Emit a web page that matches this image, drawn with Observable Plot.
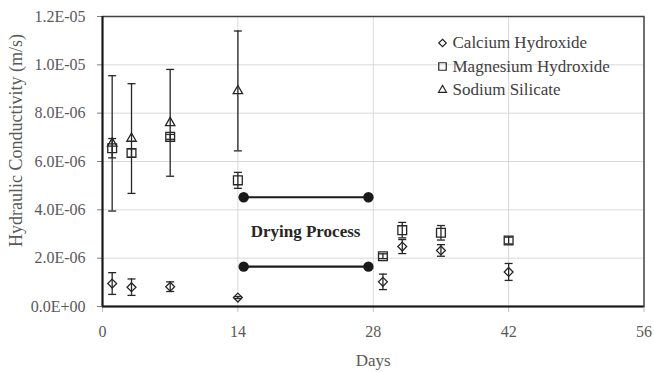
<!DOCTYPE html>
<html>
<head>
<meta charset="utf-8">
<script src="https://cdn.jsdelivr.net/npm/d3@7"></script>
<script src="https://cdn.jsdelivr.net/npm/@observablehq/plot@0.6"></script>
<style>
  html, body { margin: 0; padding: 0; background: #fff; }
  #chart { width: 654px; height: 372px; }
</style>
</head>
<body>
<div id="chart"></div>
<script>
// ---- data ----
const seriesNames = ["Calcium Hydroxide", "Magnesium Hydroxide", "Sodium Silicate"];

const caDays = [1, 3, 7, 14, 29, 31, 35, 42];
const caValues = [0.95e-6, 0.80e-6, 0.82e-6, 0.37e-6, 1.02e-6, 2.48e-6, 2.32e-6, 1.43e-6];
const caErrors = [0.45e-6, 0.34e-6, 0.20e-6, 0.04e-6, 0.32e-6, 0.29e-6, 0.24e-6, 0.35e-6];

const mgDays = [1, 3, 7, 14, 29, 31, 35, 42];
const mgValues = [6.55e-6, 6.35e-6, 7.02e-6, 5.22e-6, 2.08e-6, 3.16e-6, 3.05e-6, 2.73e-6];
const mgErrors = [0.40e-6, 0.17e-6, 0.10e-6, 0.33e-6, 0.10e-6, 0.32e-6, 0.30e-6, 0.14e-6];

const naDays = [1, 3, 7, 14];
const naValues = [6.75e-6, 6.95e-6, 7.60e-6, 8.92e-6];
const naErrors = [2.80e-6, 2.27e-6, 2.21e-6, 2.48e-6];

const dryingDays = [14.6, 27.5];
const dryingLevels = [4.52e-6, 1.65e-6];
const dryingLabel = "Drying Process";
const dryingLabelPos = [21, 3.1e-6];

const xTicks = [0, 14, 28, 42, 56];
const yTicks = [0, 2e-6, 4e-6, 6e-6, 8e-6, 10e-6, 12e-6];
const xTitle = "Days";
const yTitle = "Hydraulic Conductivity (m/s)";

// ---- build tables ----
function rows(days, values, errors, series) {
  return days.map((d, i) => ({series, day: d, value: values[i], lo: values[i] - errors[i], hi: values[i] + errors[i]}));
}
const ca = rows(caDays, caValues, caErrors, seriesNames[0]);
const mg = rows(mgDays, mgValues, mgErrors, seriesNames[1]);
const na = rows(naDays, naValues, naErrors, seriesNames[2]);

const symbolOf = {
  [seriesNames[0]]: {sym: "diamond2", r: 4},
  [seriesNames[1]]: {sym: "square2", r: 5.6},
  [seriesNames[2]]: {sym: "triangle2", r: 4.5}
};

const capSymbol = {draw(ctx) { ctx.moveTo(-4, 0); ctx.lineTo(4, 0); }};

function sciFormat(v) {
  if (v === 0) return "0.0E+00";
  const e = Math.floor(Math.log10(Math.abs(v)) + 1e-9);
  const m = v / Math.pow(10, e);
  const s = e < 0 ? "-" : "+";
  return m.toFixed(1) + "E" + s + String(Math.abs(e)).padStart(2, "0");
}

const ink = "#262626";
const legendRowsDy = [26.5, 50, 73.5];

const legendMarks = seriesNames.flatMap((name, i) => [
  Plot.dot([name], {frameAnchor: "top-left", dx: 340, dy: legendRowsDy[i], symbol: symbolOf[name].sym, r: symbolOf[name].r * 0.85, stroke: ink, strokeWidth: 1.2, fill: "none"}),
  Plot.text([name], {frameAnchor: "top-left", dx: 350, dy: legendRowsDy[i], text: d => d, textAnchor: "start", lineAnchor: "middle", fontSize: 17, fill: "#404040"})
]);

const seriesMarks = [ca, mg, na].flatMap(data => {
  const s = symbolOf[data[0].series];
  return [
    Plot.ruleX(data, {x: "day", y1: "lo", y2: "hi", stroke: ink, strokeWidth: 1.3}),
    Plot.dot(data, {x: "day", y: "hi", symbol: capSymbol, r: 4, stroke: ink, strokeWidth: 1.3}),
    Plot.dot(data, {x: "day", y: "lo", symbol: capSymbol, r: 4, stroke: ink, strokeWidth: 1.3}),
    Plot.dot(data, {x: "day", y: "value", symbol: s.sym, r: s.r, stroke: ink, strokeWidth: 1.3, fill: "none"})
  ];
});

const dryingSegments = dryingLevels.map(v => ({x1: dryingDays[0], x2: dryingDays[1], y: v}));
const dryingPoints = dryingLevels.flatMap(v => dryingDays.map(d => ({x: d, y: v})));

const chart = Plot.plot({
  width: 654,
  height: 372,
  marginLeft: 102,
  marginRight: 10.5,
  marginTop: 16,
  marginBottom: 66,
  style: {fontFamily: "'Liberation Serif', 'Times New Roman', serif", fontSize: "16px", color: "#595959", background: "#fff"},
  x: {domain: [0, 56]},
  y: {domain: [0, 1.2e-5]},
  marks: [
    Plot.gridY(yTicks, {stroke: "#d9d9d9", strokeOpacity: 1, strokeWidth: 1}),
    Plot.gridX(xTicks.slice(1, -1), {stroke: "#d9d9d9", strokeOpacity: 1, strokeWidth: 1}),
    Plot.axisX(xTicks, {tickSize: 6, tickPadding: 13, stroke: "#bfbfbf", fill: "#595959", label: null, fontSize: 16}),
    Plot.axisY(yTicks, {tickSize: 5, tickPadding: 12, stroke: "#7f7f7f", fill: "#595959", tickFormat: sciFormat, label: null, fontSize: 16}),
    Plot.frame({stroke: "#404040", strokeWidth: 1.5}),
    Plot.ruleX([0], {stroke: "#1a1a1a", strokeWidth: 2}),
    Plot.ruleY([0], {stroke: "#1a1a1a", strokeWidth: 2}),
    ...seriesMarks,
    Plot.ruleY(dryingSegments, {y: "y", x1: "x1", x2: "x2", stroke: "#1a1a1a", strokeWidth: 2.2}),
    Plot.dot(dryingPoints, {x: "x", y: "y", r: 5.2, fill: "#1a1a1a", stroke: "none"}),
    Plot.text([dryingLabel], {x: () => dryingLabelPos[0], y: () => dryingLabelPos[1], text: d => d, fontWeight: "bold", fontSize: 17, fill: "#262626"}),
    ...legendMarks,
    Plot.text([xTitle], {frameAnchor: "bottom", dy: 59, text: d => d, fontSize: 17, fill: "#595959"}),
    Plot.text([yTitle], {frameAnchor: "left", dx: -86, dy: -21, rotate: -90, textAnchor: "middle", lineAnchor: "middle", text: d => d, fontSize: 18, fill: "#595959"})
  ]
});

document.getElementById("chart").appendChild(chart);
</script>
</body>
</html>
